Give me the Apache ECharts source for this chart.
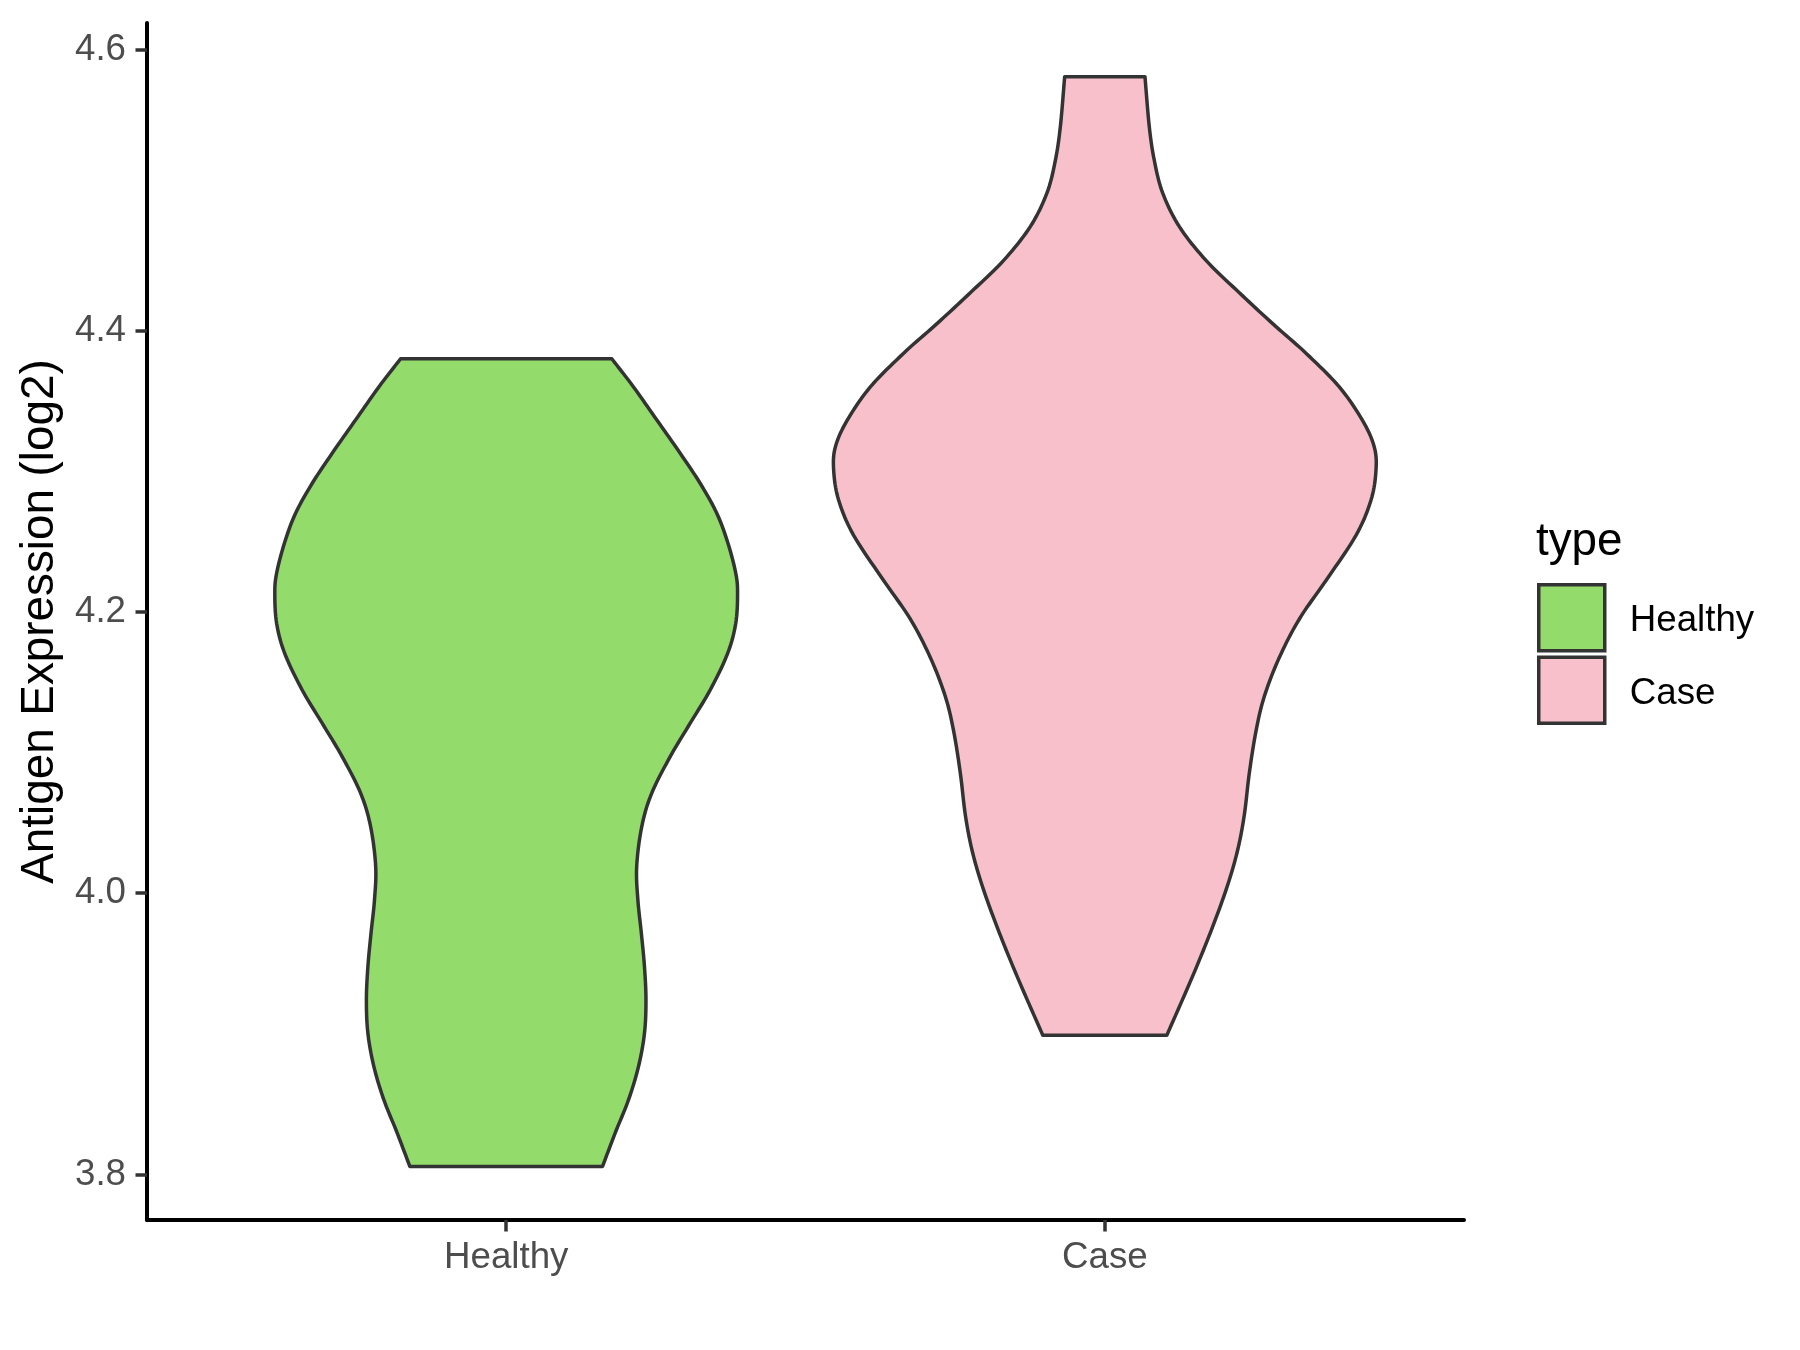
<!DOCTYPE html>
<html><head><meta charset="utf-8">
<script src="https://cdn.jsdelivr.net/npm/echarts@6/dist/echarts.min.js"></script>
<style>html,body{margin:0;padding:0;background:#fff}#c{width:1800px;height:1350px}</style>
</head><body><div id="c"></div>
<script>
const categories = ['Healthy', 'Case'];
const yTickValues = [3.8, 4.0, 4.2, 4.4, 4.6];
// Violin outlines: y value and half-width (in category units)
const healthyY = [4.380,4.360,4.3365,4.3128,4.2915,4.270,4.2488,4.2275,4.2133,4.192,4.1706,4.1445,4.1209,4.0971,4.071,4.0474,4.019,3.9952,3.9715,3.9478,3.924,3.9004,3.8767,3.853,3.8294,3.8057];
const healthyHalfWidth = [0.1765,0.2127,0.2517,0.2907,0.324,0.352,0.3705,0.3835,0.3865,0.3835,0.3700,0.3408,0.3074,0.274,0.243,0.2265,0.2180,0.2200,0.2258,0.2310,0.2335,0.2310,0.221,0.2043,0.182,0.161];
const caseY = [4.5806,4.545,4.521,4.498,4.474,4.450,4.427,4.405,4.384,4.360,4.336,4.3175,4.301,4.2796,4.2545,4.2224,4.195,4.1676,4.140,4.1154,4.0855,4.0556,4.0307,4.0058,3.976,3.941,3.899];
const caseHalfWidth = [0.0671,0.0743,0.0827,0.0966,0.1245,0.169,0.2247,0.2804,0.336,0.3917,0.4307,0.450,0.453,0.4447,0.4196,0.3695,0.325,0.2915,0.2665,0.2526,0.2414,0.233,0.2219,0.2052,0.180,0.1467,0.1036];

const FONT = "'Liberation Sans', Arial, sans-serif";
const colors = {Healthy: '#93DB6B', Case: '#F8C0CB'};

function spline(pts, steps) {
  const out = [];
  const n = pts.length;
  for (let i = 0; i < n - 1; i++) {
    const p0 = pts[Math.max(i - 1, 0)], p1 = pts[i], p2 = pts[i + 1], p3 = pts[Math.min(i + 2, n - 1)];
    for (let s = 0; s < steps; s++) {
      const t = s / steps, t2 = t * t, t3 = t2 * t;
      const f = (a, b, c, d) => 0.5 * ((2 * b) + (-a + c) * t + (2 * a - 5 * b + 4 * c - d) * t2 + (-a + 3 * b - 3 * c + d) * t3);
      out.push([f(p0[0], p1[0], p2[0], p3[0]), f(p0[1], p1[1], p2[1], p3[1])]);
    }
  }
  out.push(pts[n - 1]);
  return out;
}

function makeRender(yArr, hwArr) {
  return function (params, api) {
    const xc = api.value(0);
    const right = yArr.map((y, i) => api.coord([xc + hwArr[i], y]));
    const left = yArr.map((y, i) => api.coord([xc - hwArr[i], y])).reverse();
    const pts = spline(right, 10).concat(spline(left, 10));
    return {
      type: 'polygon',
      shape: {points: pts},
      style: {fill: api.visual('color'), stroke: '#333333', lineWidth: 3.5, lineJoin: 'round'}
    };
  };
}

const chart = echarts.init(document.getElementById('c'), null, {renderer: 'canvas'});
chart.setOption({
  animation: false,
  backgroundColor: '#ffffff',
  textStyle: {fontFamily: FONT},
  title: {
    text: 'type', left: 1536, top: 519, padding: 0,
    textStyle: {fontFamily: FONT, fontSize: 45.8, fontWeight: 'normal', color: '#000'}
  },
  legend: {
    orient: 'vertical', left: 1537, top: 583, padding: 0,
    itemWidth: 66, itemHeight: 66, itemGap: 3, icon: 'rect',
    itemStyle: {borderColor: '#333333', borderWidth: 3.5},
    formatter: name => '{a|' + name + '}',
    textStyle: {
      fontFamily: FONT, fontSize: 36.7, color: '#000',
      rich: {a: {fontFamily: FONT, fontSize: 36.7, color: '#000', padding: [7, 0, 0, 20]}}
    },
    data: categories
  },
  grid: {left: 147, right: 336, top: 23, bottom: 130, containLabel: false},
  xAxis: {
    type: 'value', min: 0.4, max: 2.6,
    splitLine: {show: false},
    axisLine: {show: true, lineStyle: {color: '#000', width: 4}},
    axisTick: {show: true, length: 11.5, customValues: [1, 2], lineStyle: {color: '#333', width: 3.5}},
    axisLabel: {
      show: true, customValues: [1, 2], margin: 19,
      fontFamily: FONT, fontSize: 36.7, color: '#4D4D4D',
      formatter: v => categories[Math.round(v) - 1] || ''
    }
  },
  yAxis: {
    type: 'value', min: 3.7676, max: 4.6188,
    name: 'Antigen Expression (log2)', nameLocation: 'middle', nameGap: 84,
    nameTextStyle: {fontFamily: FONT, fontSize: 45.8, color: '#000'},
    splitLine: {show: false},
    axisLine: {show: true, lineStyle: {color: '#000', width: 4}},
    axisTick: {show: true, length: 11.5, customValues: yTickValues, lineStyle: {color: '#333', width: 3.5}},
    axisLabel: {
      show: true, customValues: yTickValues, margin: 21,
      fontFamily: FONT, fontSize: 36.7, color: '#4D4D4D',
      formatter: v => v.toFixed(1)
    }
  },
  series: [
    {
      name: 'Healthy', type: 'custom', coordinateSystem: 'cartesian2d',
      itemStyle: {color: colors.Healthy, borderColor: '#333333', borderWidth: 3.5},
      encode: {x: 0, y: 1},
      data: [[1, 4.1]],
      renderItem: makeRender(healthyY, healthyHalfWidth)
    },
    {
      name: 'Case', type: 'custom', coordinateSystem: 'cartesian2d',
      itemStyle: {color: colors.Case, borderColor: '#333333', borderWidth: 3.5},
      encode: {x: 0, y: 1},
      data: [[2, 4.2]],
      renderItem: makeRender(caseY, caseHalfWidth)
    }
  ]
});
</script></body></html>
